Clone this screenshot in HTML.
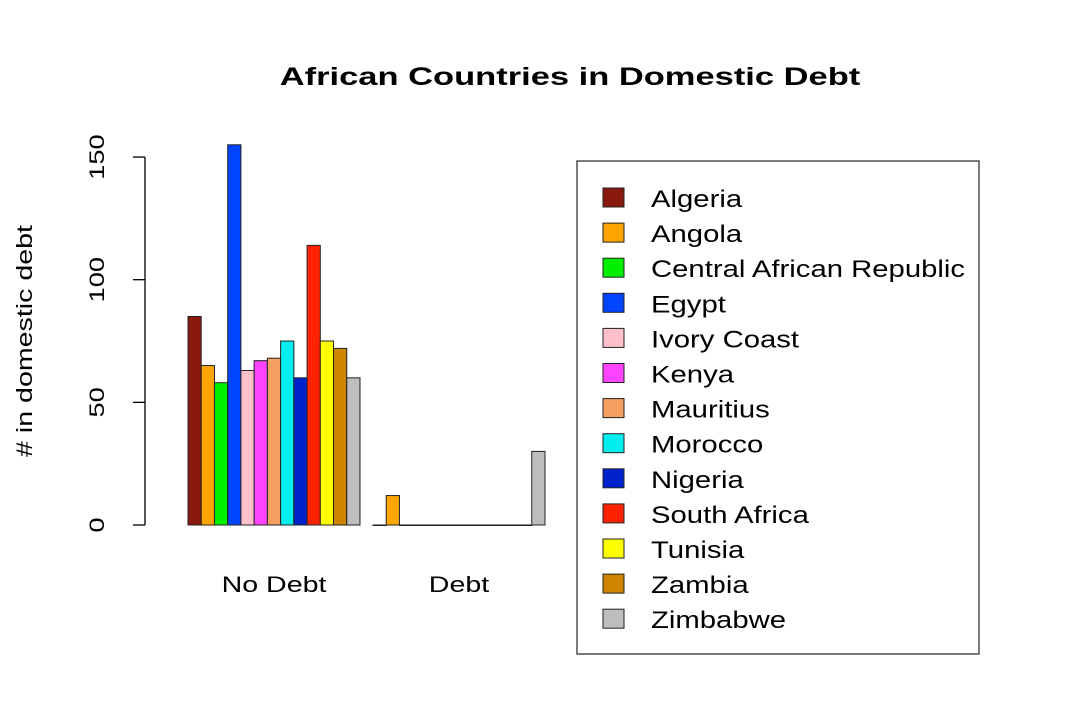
<!DOCTYPE html>
<html><head><meta charset="utf-8"><style>
body{margin:0;background:#fff;}
svg{display:block;font-family:"Liberation Sans",Arial,sans-serif;}
</style></head><body>
<svg id="chart" width="1072" height="709">
<text transform="translate(570,85) scale(1.38,1)" text-anchor="middle" font-size="25" font-weight="bold">African Countries in Domestic Debt</text>
<text transform="translate(32,341) rotate(-90) scale(1.3,1)" text-anchor="middle" font-size="22"># in domestic debt</text>
<g id="yaxis"></g>
<g id="bars"></g>
<g id="legend"></g>
</svg>
<script>
const countries=["Algeria","Angola","Central African Republic","Egypt","Ivory Coast","Kenya","Mauritius","Morocco","Nigeria","South Africa","Tunisia","Zambia","Zimbabwe"];
const colors=["#8b1a0e","#ffa500","#00ee00","#0044ff","#ffc0cb","#ff44ff","#f4a060","#00eeee","#0022cc","#ff2200","#ffff00","#cd8500","#bebebe"];
const groups=["No Debt","Debt"];
const noDebt=[85,65,58,155,63,67,68,75,60,114,75,72,60];
const debt=[0,12,0,0,0,0,0,0,0,0,0,0,30];
const yTicks=[0,50,100,150];
const NS="http://www.w3.org/2000/svg";
function el(t,a,p){const e=document.createElementNS(NS,t);for(const k in a)e.setAttribute(k,a[k]);p.appendChild(e);return e;}
const y=v=>525-v*2.453;
const bw=13.23;
const groupX=[188,373];
const ya=document.getElementById('yaxis');
el('line',{x1:145,x2:145,y1:y(0),y2:y(150),stroke:'#000','stroke-width':1.3},ya);
yTicks.forEach(t=>{
 el('line',{x1:133,x2:145,y1:y(t),y2:y(t),stroke:'#000','stroke-width':1.3},ya);
 const tx=el('text',{transform:`translate(104,${y(t)}) rotate(-90) scale(1.3,1)`,'text-anchor':'middle','font-size':21},ya);
 tx.textContent=t;
 
 
});
const bg=document.getElementById('bars');
[noDebt,debt].forEach((vals,g)=>{
 vals.forEach((v,i)=>{
  const r=el('rect',{x:groupX[g]+i*bw,y:y(v),width:bw,height:Math.max(v*2.453,0.5),fill:colors[i],stroke:'#222','stroke-width':1},bg);
  
  
 });
 const l=el('text',{transform:`translate(${groupX[g]+bw*6.5},592) scale(1.3,1)`,'text-anchor':'middle','font-size':22},bg);
 l.textContent=groups[g];
 
 
});
const lg=document.getElementById('legend');
el('rect',{x:577,y:161,width:402,height:493,fill:'#fff',stroke:'#333','stroke-width':1.3},lg);
countries.forEach((c,i)=>{
 const cy=198+i*35.1;
 const r=el('rect',{x:603,y:cy-10,width:21,height:19,fill:colors[i],stroke:'#222','stroke-width':1},lg);
 
 
 const t=el('text',{transform:`translate(651,${cy+9}) scale(1.22,1)`,'font-size':24},lg);
 t.textContent=c;
 
 
});
</script>
</body></html>
